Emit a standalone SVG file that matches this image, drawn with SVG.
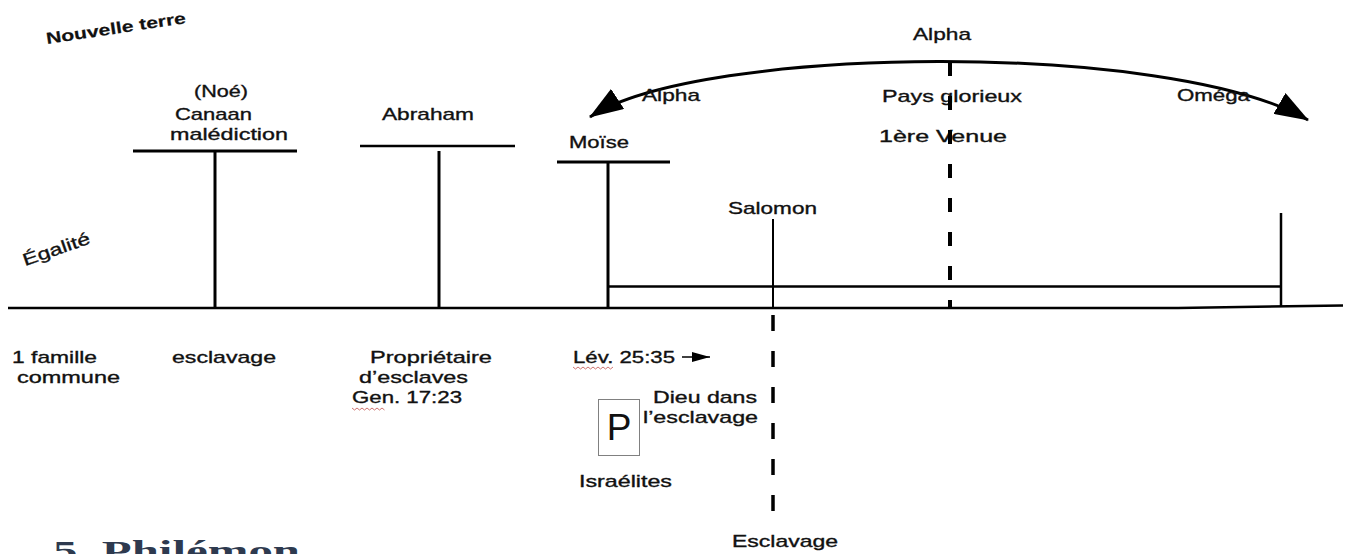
<svg xmlns="http://www.w3.org/2000/svg" width="1351" height="554" viewBox="0 0 1351 554">
<style>
  text { font-family: "Liberation Sans", Arial, sans-serif; font-size: 17px; fill: #111; stroke: #111; stroke-width: 0.35; }
  .ln { stroke: #000; fill: none; stroke-linecap: butt; }
  .t3 { stroke-width: 3; }
  .t25 { stroke-width: 2.5; }
  .t2 { stroke-width: 2; }
  .dash { stroke: #000; fill: none; stroke-width: 4; stroke-dasharray: 14 20; }
  .dash2 { stroke: #000; fill: none; stroke-width: 3.5; stroke-dasharray: 16 20; }
  .wavy { stroke: #c0504d; fill: none; stroke-width: 0.8; }
  .big { font-size: 37px; stroke-width: 0; }
  .bold { font-weight: bold; font-size: 16px; stroke-width: 0.2; }
  .title { font-family: "Liberation Serif", "DejaVu Serif", serif; font-weight: bold; font-size: 30px; fill: #2e3a4f; stroke: none; }
</style>
<defs>
  <marker id="bigArrow" markerUnits="userSpaceOnUse" viewBox="0 0 34 24" refX="33" refY="12" markerWidth="34" markerHeight="24" orient="auto-start-reverse">
    <path d="M0,0 L34,12 L0,24 z" fill="#000"/>
  </marker>
  <marker id="smallArrow" markerUnits="userSpaceOnUse" viewBox="0 0 18 10" refX="18" refY="5" markerWidth="18" markerHeight="10" orient="auto">
    <path d="M0,0 L18,5 L0,10 z" fill="#000"/>
  </marker>
</defs>
<rect width="1351" height="554" fill="#fff"/>

<g id="connectors">
  <path class="ln t25" d="M8,308 L1178,308 L1343,305.5"/>
  <path class="ln t25" d="M608,286.5 L1281,286.5"/>
  <path class="ln t3" d="M590,117 C700,45 1170,40 1308,120" marker-start="url(#bigArrow)" marker-end="url(#bigArrow)"/>
  <line class="ln" stroke-width="1.5" x1="682" y1="357" x2="710" y2="357" marker-end="url(#smallArrow)"/>
</g>

<g id="label-nouvelle-terre">
  <text class="bold" transform="translate(47,44) rotate(-8.5)" textLength="141" lengthAdjust="spacingAndGlyphs">Nouvelle terre</text>
</g>
<g id="label-egalite">
  <text transform="translate(25,266) rotate(-19)" textLength="70" lengthAdjust="spacingAndGlyphs">Égalité</text>
</g>

<g id="node-canaan">
  <line class="ln t3" x1="133" y1="151" x2="297" y2="151"/>
  <line class="ln t3" x1="215" y1="151" x2="215" y2="308"/>
  <text x="194" y="97" textLength="54" lengthAdjust="spacingAndGlyphs">(Noé)</text>
  <text x="175" y="120" textLength="77" lengthAdjust="spacingAndGlyphs">Canaan</text>
  <text x="170" y="140" textLength="118" lengthAdjust="spacingAndGlyphs">malédiction</text>
  <text x="172" y="363" textLength="104" lengthAdjust="spacingAndGlyphs">esclavage</text>
</g>

<g id="node-famille">
  <text x="12" y="363" textLength="85" lengthAdjust="spacingAndGlyphs">1 famille</text>
  <text x="17" y="383" textLength="103" lengthAdjust="spacingAndGlyphs">commune</text>
</g>

<g id="node-abraham">
  <line class="ln t25" x1="360" y1="146" x2="515" y2="146"/>
  <line class="ln t3" x1="439" y1="151" x2="439" y2="308"/>
  <text x="382" y="120" textLength="92" lengthAdjust="spacingAndGlyphs">Abraham</text>
  <text x="370" y="363" textLength="122" lengthAdjust="spacingAndGlyphs">Propriétaire</text>
  <text x="359" y="383" textLength="109" lengthAdjust="spacingAndGlyphs">d’esclaves</text>
  <text x="352" y="403" textLength="110" lengthAdjust="spacingAndGlyphs">Gen. 17:23</text>
  <path class="wavy" d="M352,408 l2.5,2 l2.5,-2 l2.5,2 l2.5,-2 l2.5,2 l2.5,-2 l2.5,2 l2.5,-2 l2.5,2 l2.5,-2 l2.5,2 l2.5,-2 l2.5,2"/>
</g>

<g id="node-moise">
  <line class="ln t3" x1="557" y1="162" x2="670" y2="162"/>
  <line class="ln t3" x1="608" y1="162" x2="608" y2="308"/>
  <text x="569" y="148" textLength="60" lengthAdjust="spacingAndGlyphs">Moïse</text>
  <text x="573" y="363" textLength="102" lengthAdjust="spacingAndGlyphs">Lév. 25:35</text>
  <path class="wavy" d="M573,367 l2.5,2 l2.5,-2 l2.5,2 l2.5,-2 l2.5,2 l2.5,-2 l2.5,2 l2.5,-2 l2.5,2 l2.5,-2 l2.5,2 l2.5,-2 l2.5,2 l2.5,-2 l2.5,2 l2.5,-2"/>
</g>

<g id="node-israelites">
  <rect x="598.5" y="399.5" width="41" height="56" fill="#fff" stroke="#808080" stroke-width="1"/>
  <text class="big" x="619" y="440" text-anchor="middle">P</text>
  <text x="579" y="487" textLength="93" lengthAdjust="spacingAndGlyphs">Israélites</text>
  <text x="653" y="403" textLength="104" lengthAdjust="spacingAndGlyphs">Dieu dans</text>
  <text x="643" y="423" textLength="115" lengthAdjust="spacingAndGlyphs">l’esclavage</text>
</g>

<g id="node-salomon">
  <line class="ln t2" x1="773" y1="219" x2="773" y2="308"/>
  <line class="dash2" x1="773" y1="315" x2="773" y2="526"/>
  <text x="728" y="214" textLength="89" lengthAdjust="spacingAndGlyphs">Salomon</text>
  <text x="732" y="547" textLength="106" lengthAdjust="spacingAndGlyphs">Esclavage</text>
</g>

<g id="node-alpha">
  <text x="642" y="101" textLength="58" lengthAdjust="spacingAndGlyphs">Alpha</text>
</g>

<g id="node-pays-glorieux">
  <text x="913" y="40" textLength="58" lengthAdjust="spacingAndGlyphs">Alpha</text>
  <text x="882" y="102" textLength="140" lengthAdjust="spacingAndGlyphs">Pays glorieux</text>
  <text x="879" y="142" textLength="128" lengthAdjust="spacingAndGlyphs">1ère  Venue</text>
  <line class="dash" x1="950" y1="62" x2="950" y2="308"/>
</g>

<g id="node-omega">
  <line class="ln t25" x1="1281" y1="213" x2="1281" y2="307"/>
  <text x="1177" y="101" textLength="73" lengthAdjust="spacingAndGlyphs">Oméga</text>
</g>

<g id="title">
  <text class="title" x="53" y="561" textLength="247" lengthAdjust="spacingAndGlyphs">5. Philémon</text>
</g>
</svg>
